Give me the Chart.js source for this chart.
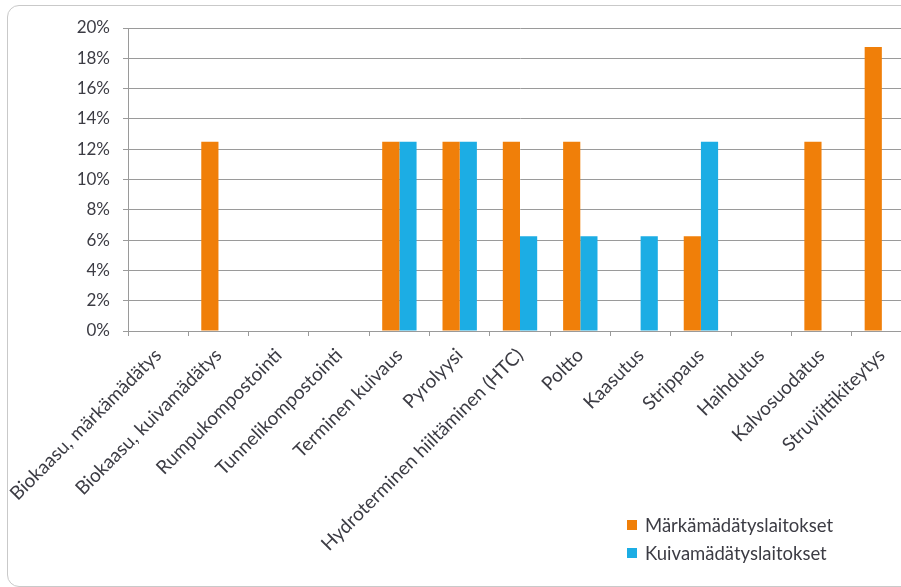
<!DOCTYPE html>
<html>
<head>
<meta charset="utf-8">
<script src="https://cdn.jsdelivr.net/npm/chart.js@4.4.1/dist/chart.umd.min.js"></script>
<style>
  html, body { margin: 0; padding: 0; width: 901px; height: 587px; overflow: hidden; background: #fff; }
  #frame { position: absolute; left: 7px; top: 5px; width: 910px; height: 582px; border: 1px solid #c9c9c9; border-radius: 12px; box-sizing: border-box; }
  #wrap { position: absolute; left: 0; top: 0; width: 924px; height: 587px; }
  #legend { position: absolute; left: 627px; top: 511px; font: 18.5px Lato, sans-serif; color: #3c3c44; }
  .item { display: flex; align-items: center; height: 28px; white-space: nowrap; }
  .sw { width: 10px; height: 10px; margin-right: 8px; }
</style>
</head>
<body>
<div id="frame"></div>
<div id="wrap"><canvas id="c" width="924" height="587"></canvas></div>
<div id="legend"></div>
<script>
// Käsittelytekniikat
const categories = [
  'Biokaasu, märkämädätys',
  'Biokaasu, kuivamädätys',
  'Rumpukompostointi',
  'Tunnelikompostointi',
  'Terminen kuivaus',
  'Pyrolyysi',
  'Hydroterminen hiiltäminen (HTC)',
  'Poltto',
  'Kaasutus',
  'Strippaus',
  'Haihdutus',
  'Kalvosuodatus',
  'Struviittikiteytys'
];

// Osuus laitoksista (%)
const wetPlants = [0, 12.5, 0, 0, 12.5, 12.5, 12.5, 12.5, 0, 6.25, 0, 12.5, 18.75];
const dryPlants = [0, 0, 0, 0, 12.5, 12.5, 6.25, 6.25, 6.25, 12.5, 0, 0, 0];

const seriesNames = ['Märkämädätyslaitokset', 'Kuivamädätyslaitokset'];
const seriesColors = ['#F07F09', '#1CADE4'];

// Y-akselin asteikko
const yMin = 0, yMax = 20, yStep = 2;

const textColor = '#3c3c44';
const gridColor = '#9a9a9a';

const chart = new Chart(document.getElementById('c'), {
  type: 'bar',
  data: {
    labels: categories,
    datasets: [
      { label: seriesNames[0], data: wetPlants, backgroundColor: seriesColors[0] },
      { label: seriesNames[1], data: dryPlants, backgroundColor: seriesColors[1] }
    ]
  },
  options: {
    responsive: false,
    animation: false,
    events: [],
    layout: { padding: { left: 0, top: 28, right: 12, bottom: 0 } },
    datasets: { bar: { categoryPercentage: 0.57, barPercentage: 1, borderWidth: 0 } },
    plugins: { legend: { display: false }, tooltip: { enabled: false } },
    scales: {
      x: {
        grid: { display: true, drawOnChartArea: false, drawTicks: true, tickLength: 5, color: gridColor, offset: true },
        border: { display: true, color: gridColor },
        ticks: { autoSkip: false, minRotation: 45, maxRotation: 45, padding: 8, color: textColor, font: { family: 'Lato', size: 19 } },
        afterFit(scale) { scale.height = 587 - 331; }
      },
      y: {
        min: yMin, max: yMax,
        grid: { color: gridColor, drawTicks: true, tickLength: 5 },
        border: { display: true, color: gridColor },
        ticks: { stepSize: yStep, padding: 13, color: textColor, font: { family: 'Lato', size: 17 }, callback: v => v + '%' },
        afterFit(scale) { scale.width = 128; }
      }
    }
  }
});

// Selite
const legend = document.getElementById('legend');
chart.data.datasets.forEach(ds => {
  const row = document.createElement('div');
  row.className = 'item';
  const sw = document.createElement('span');
  sw.className = 'sw';
  sw.style.background = ds.backgroundColor;
  const txt = document.createElement('span');
  txt.textContent = ds.label;
  row.appendChild(sw);
  row.appendChild(txt);
  legend.appendChild(row);
});
</script>
</body>
</html>
